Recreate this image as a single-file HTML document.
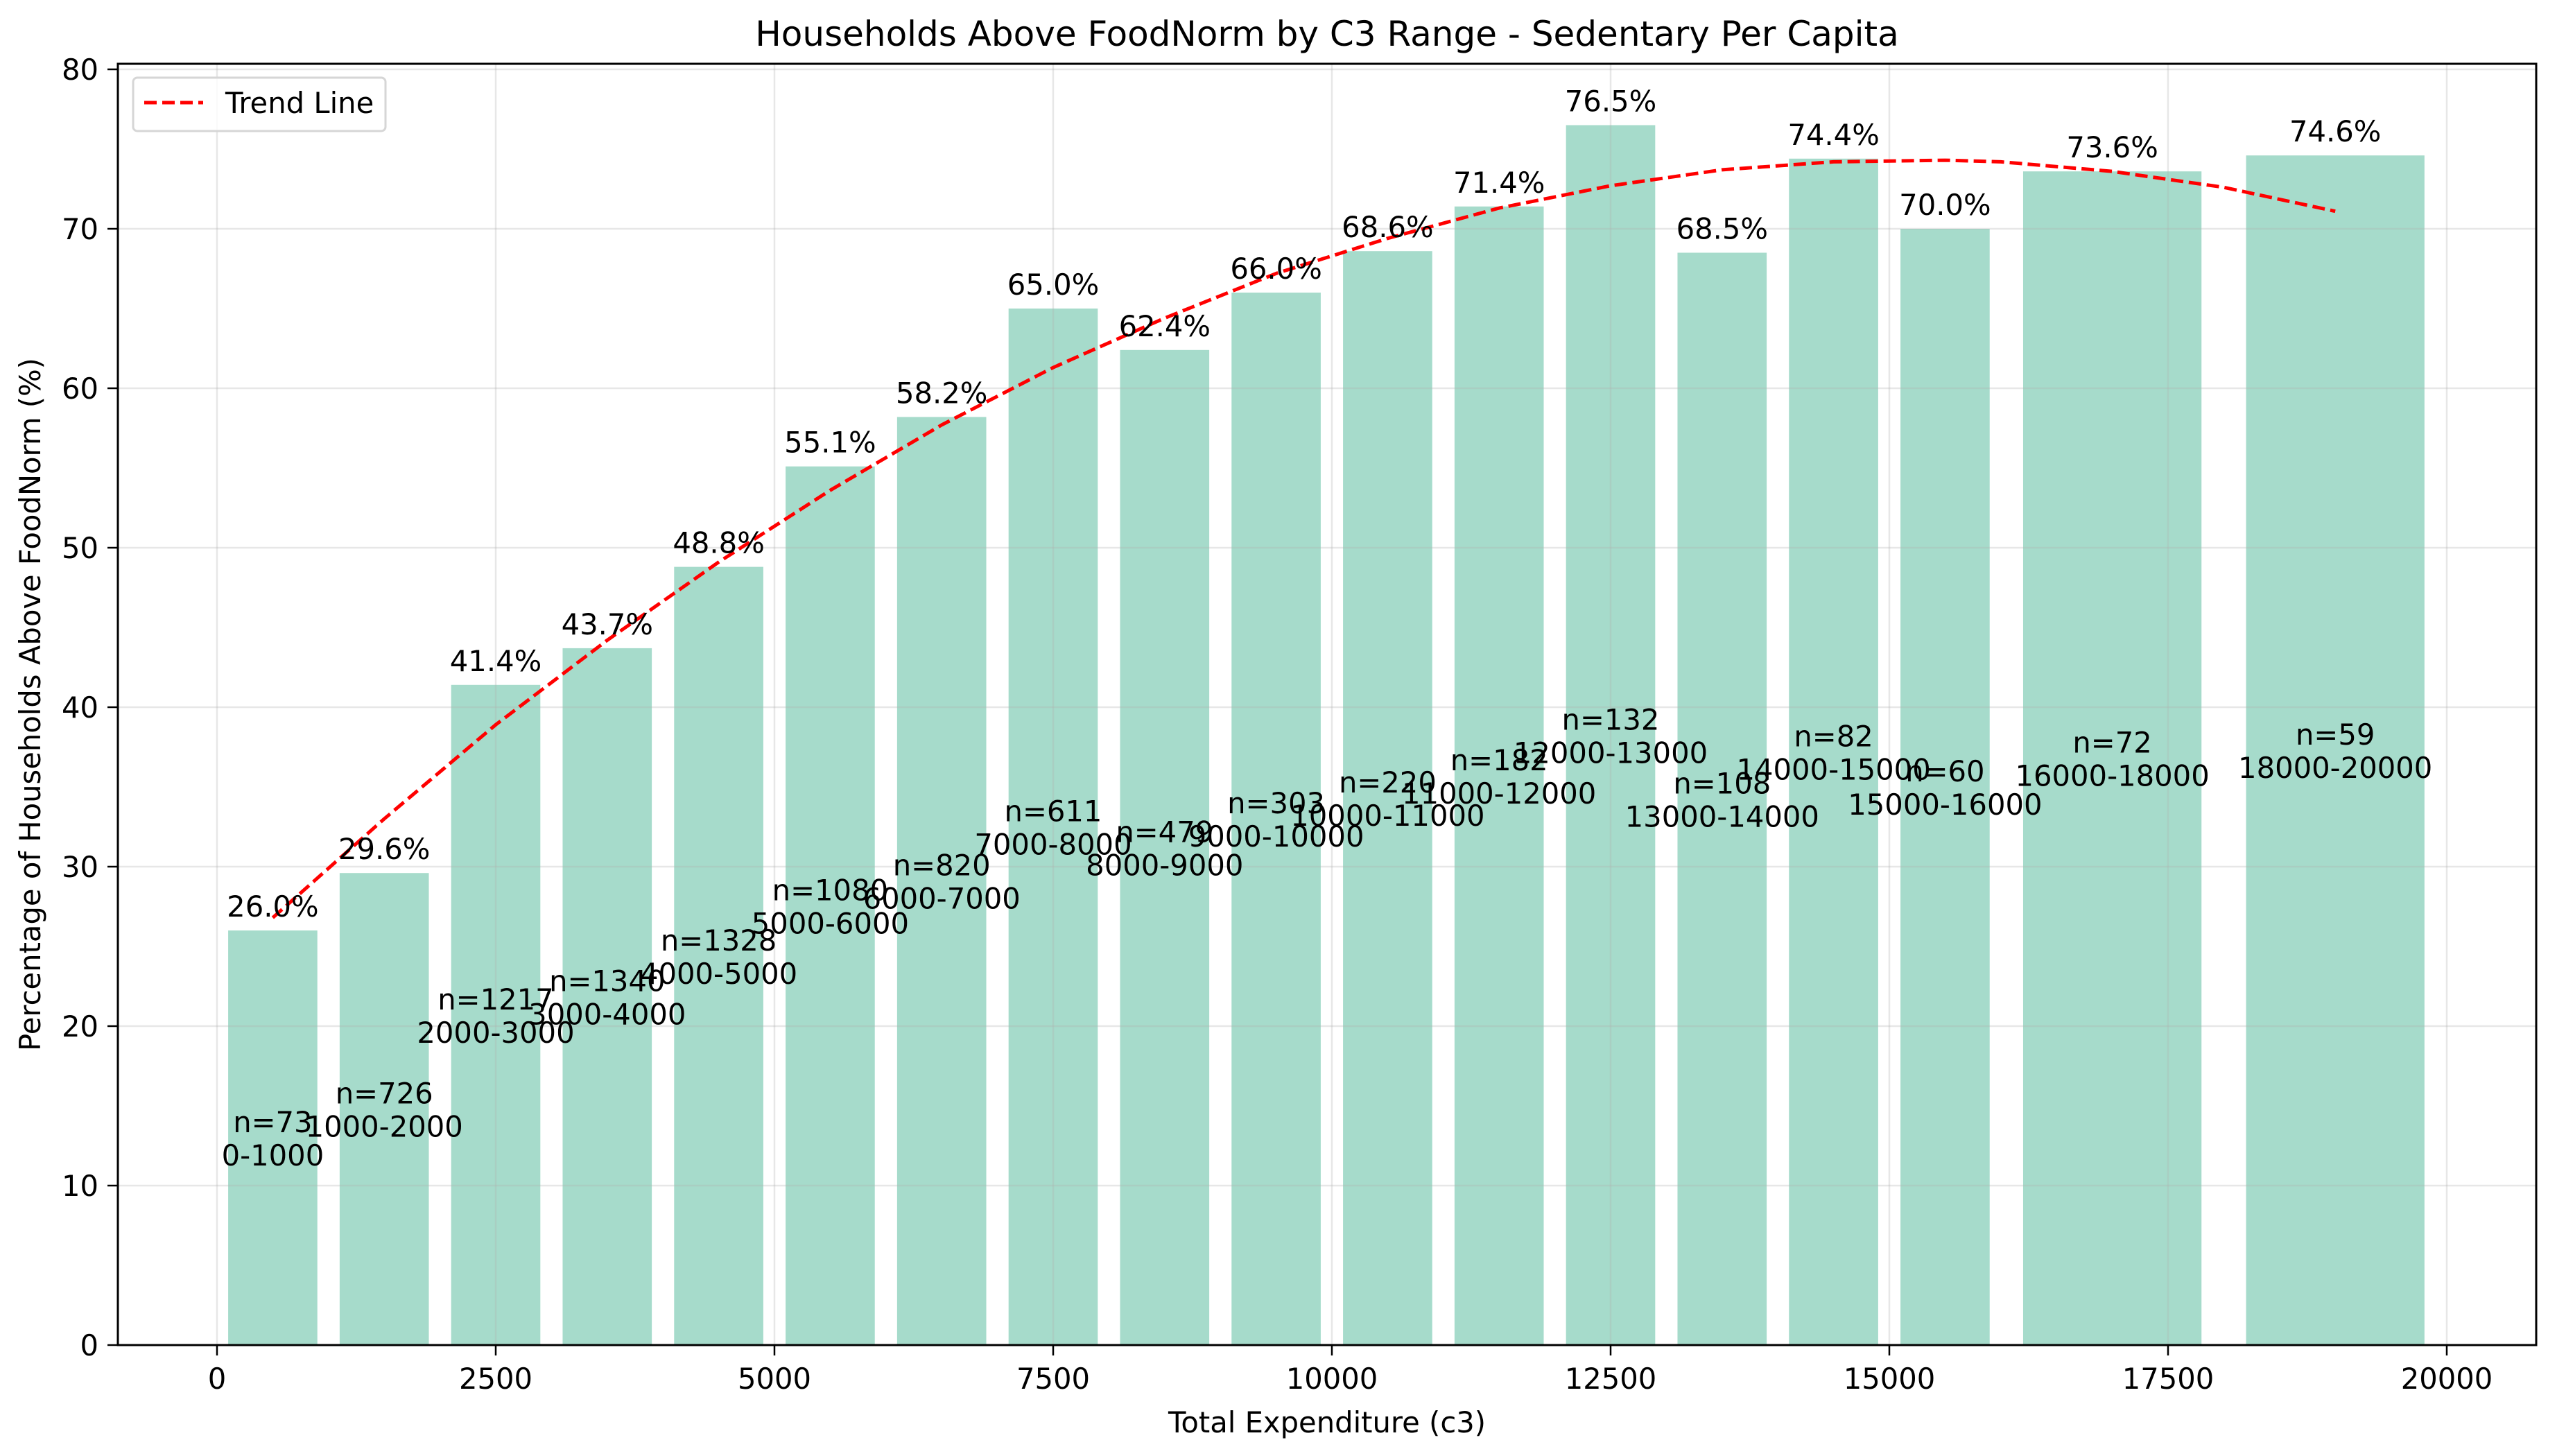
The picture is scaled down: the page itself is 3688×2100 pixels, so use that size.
<!DOCTYPE html>
<html><head><meta charset="utf-8">
<style>
html,body{margin:0;padding:0;background:#fff;}
svg{display:block;font-family:"DejaVu Sans","Liberation Sans",sans-serif;}
</style></head>
<body>
<svg id="chart" width="3688" height="2100" viewBox="0 0 3688 2100" xmlns="http://www.w3.org/2000/svg">
<rect width="3688" height="2100" fill="#fff"/>
<text x="1914" y="66" font-size="50" text-anchor="middle">Households Above FoodNorm by C3 Range - Sedentary Per Capita</text>
<text x="1914" y="2066" font-size="41.7" text-anchor="middle">Total Expenditure (c3)</text>
<text x="0" y="0" font-size="41.7" text-anchor="middle" transform="translate(58,1016) rotate(-90)">Percentage of Households Above FoodNorm (%)</text>
<g id="bars"></g>
<g id="grid"></g>
<g id="trend"></g>
<g id="labels"></g>
<g id="axes"></g>
<g>
<rect x="192" y="112" width="364" height="77" rx="6" fill="#fff" fill-opacity="0.8" stroke="#d6d6d6" stroke-width="3"/>
<line x1="208" y1="148" x2="293" y2="148" stroke="#ff0000" stroke-width="5" stroke-dasharray="18,8"/>
<text x="325" y="163" font-size="41.7">Trend Line</text>
</g>
</svg>
<script>
const rangeLabels=["0-1000","1000-2000","2000-3000","3000-4000","4000-5000","5000-6000","6000-7000","7000-8000","8000-9000","9000-10000","10000-11000","11000-12000","12000-13000","13000-14000","14000-15000","15000-16000","16000-18000","18000-20000"];
const binStart=[0,1000,2000,3000,4000,5000,6000,7000,8000,9000,10000,11000,12000,13000,14000,15000,16000,18000];
const binEnd=[1000,2000,3000,4000,5000,6000,7000,8000,9000,10000,11000,12000,13000,14000,15000,16000,18000,20000];
const pctValues=[26.0,29.6,41.4,43.7,48.8,55.1,58.2,65.0,62.4,66.0,68.6,71.4,76.5,68.5,74.4,70.0,73.6,74.6];
const counts=[73,726,1217,1340,1328,1080,820,611,479,303,220,182,132,108,82,60,72,59];
const trendX=[500,1500,2500,3500,4500,5500,6500,7500,8500,9500,10500,11500,12500,13500,14500,15500,16000,17000,18000,19000];
const trendValues=[26.8,33.0,38.9,44.2,49.1,53.6,57.7,61.3,64.4,67.2,69.4,71.3,72.7,73.7,74.2,74.3,74.2,73.6,72.6,71.1];
const xTicks=[0,2500,5000,7500,10000,12500,15000,17500,20000];
const yTicks=[0,10,20,30,40,50,60,70,80];

const NS="http://www.w3.org/2000/svg";
const L=170,R=3658,T=92,B=1940;
const X0=313,XS=402/2500;
const xs=v=>X0+v*XS;
const ys=v=>B-v*23;
function mk(tag,attrs,parent,txt){const e=document.createElementNS(NS,tag);for(const k in attrs)e.setAttribute(k,attrs[k]);if(txt!==undefined)e.textContent=txt;parent.appendChild(e);return e;}
const gb=document.getElementById('bars'),gg=document.getElementById('grid'),gt=document.getElementById('trend'),gl=document.getElementById('labels'),ga=document.getElementById('axes');

for(let i=0;i<pctValues.length;i++){
  const c=(binStart[i]+binEnd[i])/2,w=(binEnd[i]-binStart[i])*0.8;
  const r=mk('rect',{x:xs(c-w/2),y:ys(pctValues[i]),width:w*XS,height:B-ys(pctValues[i]),fill:'#a6dbcb'},gb);
  
  
  const t=mk('text',{x:xs(c),y:ys(pctValues[i])-20,'font-size':41.7,'text-anchor':'middle'},gl,pctValues[i].toFixed(1)+'%');
  
  
  const mid=ys(pctValues[i]/2);
  const t2=mk('text',{x:xs(c),y:mid-8,'font-size':41.7,'text-anchor':'middle'},gl,'n='+counts[i]);
  
  
  const t3=mk('text',{x:xs(c),y:mid+40,'font-size':41.7,'text-anchor':'middle'},gl,rangeLabels[i]);
  
  
}
xTicks.forEach(v=>{
  const g=mk('line',{x1:xs(v),x2:xs(v),y1:T,y2:B,stroke:'#b0b0b0','stroke-opacity':0.3,'stroke-width':2.5},gg);
  
  
  mk('line',{x1:xs(v),x2:xs(v),y1:B,y2:B+15,stroke:'#000','stroke-width':2.5},ga);
  const t=mk('text',{x:xs(v),y:2003,'font-size':41.7,'text-anchor':'middle'},ga,String(v));
  
  
});
yTicks.forEach(v=>{
  const g=mk('line',{x1:L,x2:R,y1:ys(v),y2:ys(v),stroke:'#b0b0b0','stroke-opacity':0.3,'stroke-width':2.5},gg);
  
  
  mk('line',{x1:L-15,x2:L,y1:ys(v),y2:ys(v),stroke:'#000','stroke-width':2.5},ga);
  const t=mk('text',{x:L-28,y:ys(v)+15,'font-size':41.7,'text-anchor':'end'},ga,String(v));
  
  
});
const pts=trendValues.map((v,i)=>xs(trendX[i])+','+ys(v)).join(' ');
const pl=mk('polyline',{points:pts,fill:'none',stroke:'#ff0000','stroke-width':5,'stroke-dasharray':'18,8','stroke-linejoin':'round'},gt);


const fr=mk('rect',{x:L,y:T,width:R-L,height:B-T,fill:'none',stroke:'#000','stroke-width':3},ga);


</script>
</body></html>
